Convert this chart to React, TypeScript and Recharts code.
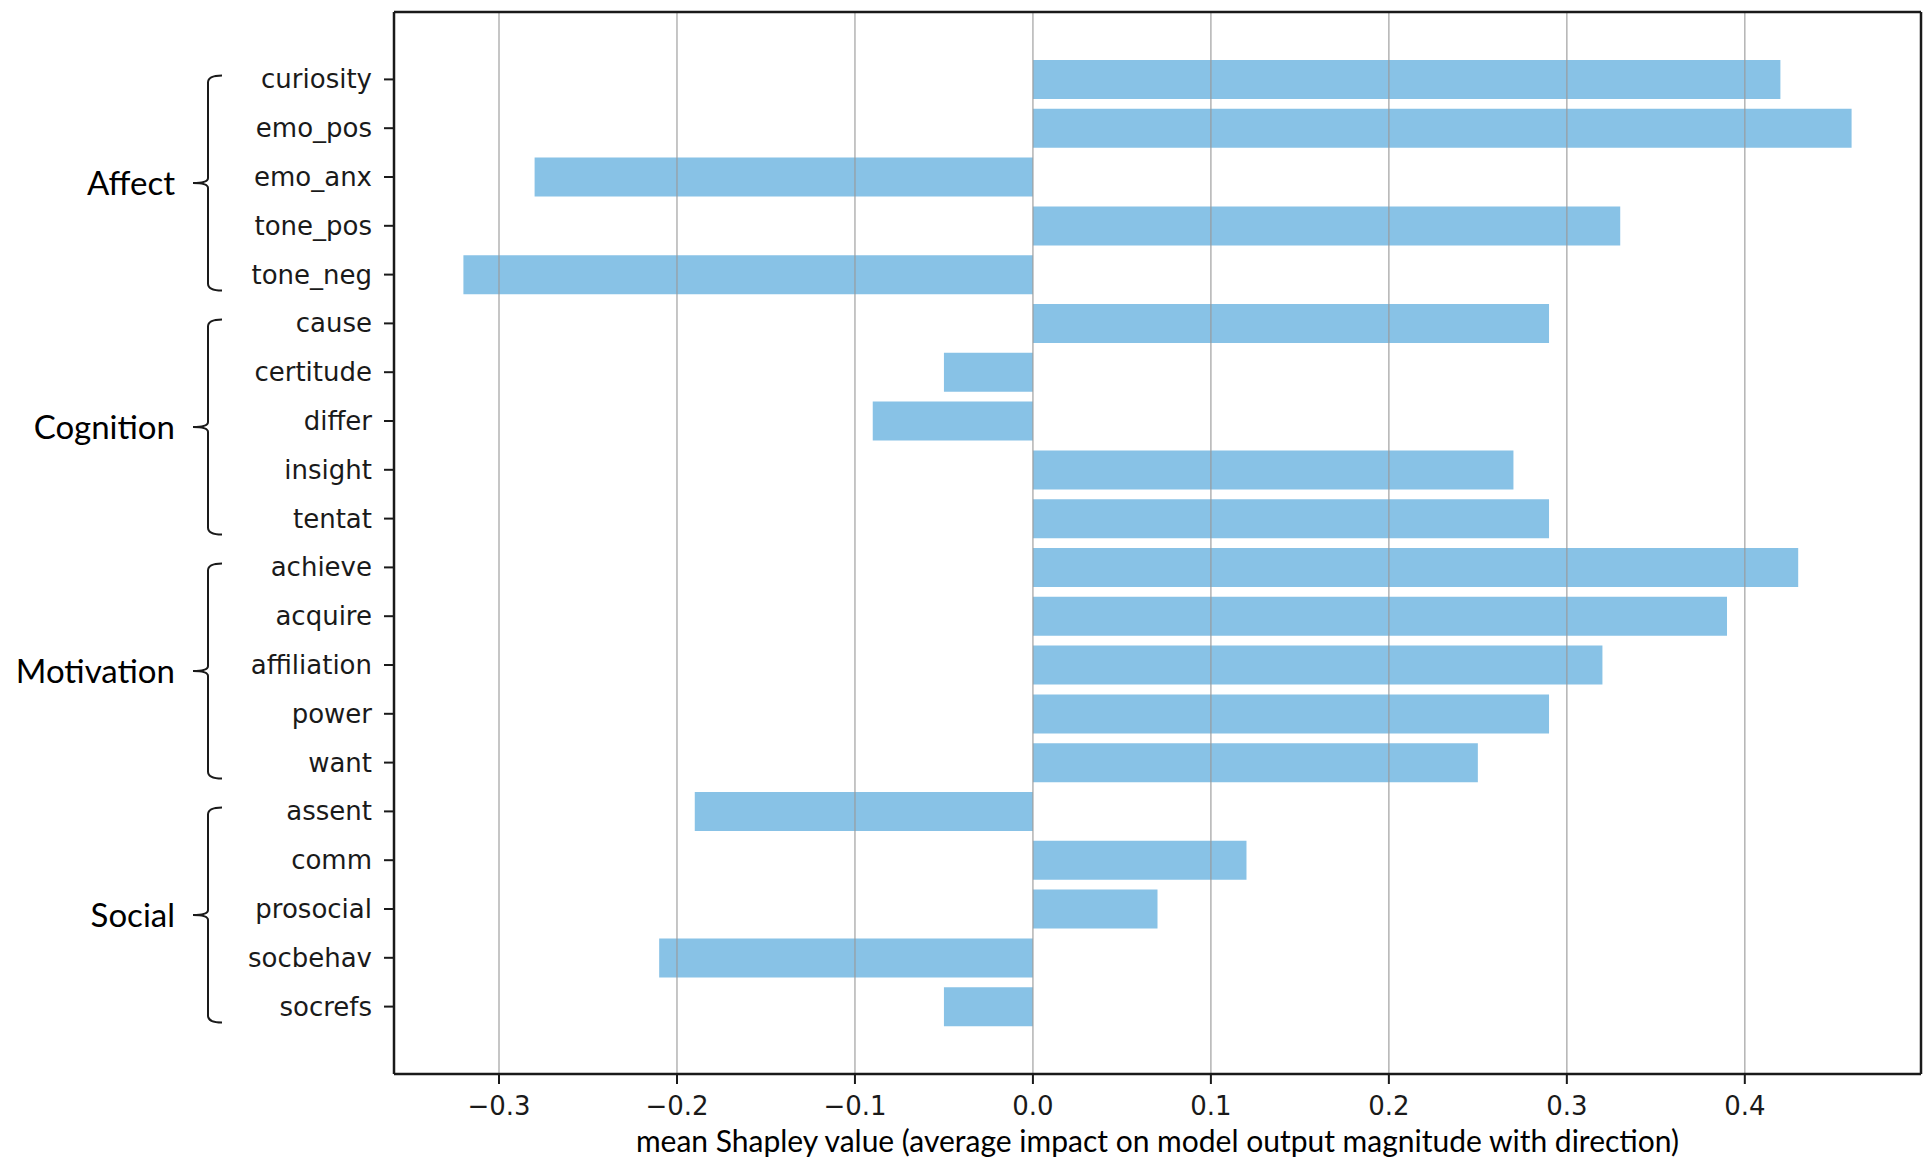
import { BarChart, Bar, XAxis, YAxis, ReferenceLine } from "recharts";

const categories = [
  "curiosity", "emo_pos", "emo_anx", "tone_pos", "tone_neg",
  "cause", "certitude", "differ", "insight", "tentat",
  "achieve", "acquire", "affiliation", "power", "want",
  "assent", "comm", "prosocial", "socbehav", "socrefs",
];
const values = [
  0.42, 0.46, -0.28, 0.33, -0.32,
  0.29, -0.05, -0.09, 0.27, 0.29,
  0.43, 0.39, 0.32, 0.29, 0.25,
  -0.19, 0.12, 0.07, -0.21, -0.05,
];
const groupNames = ["Affect", "Cognition", "Motivation", "Social"];
const groupStarts = ["curiosity", "cause", "achieve", "assent"];
const groupSizes = [5, 5, 5, 5];
const xTicks = [-0.3, -0.2, -0.1, 0.0, 0.1, 0.2, 0.3, 0.4];
const xDomain = [-0.359, 0.499];
const xLabel = "mean Shapley value (average impact on model output magnitude with direction)";

const data = categories.map((name, i) => ({ name, value: values[i] }));

const CHART_W = 1930;
const CHART_H = 1166;
const MARGIN = { top: 11, right: 8, bottom: 0, left: 0 };
const Y_AXIS_W = 394;
const X_AXIS_H = 92;
const PAD = 43;
const PLOT_H = CHART_H - MARGIN.top - 1 - X_AXIS_H;
const BAND = (PLOT_H - 2 * PAD) / categories.length;

const INK = "#1a1a1a";
const BAR = "#88C2E6";
const GRID = "#9a9a9a";

const fmt = (v: number) => v.toFixed(1).replace("-", "\u2212");

const YTick = (props: any) => {
  const { x, y, payload } = props;
  const name = payload.value as string;
  const g = groupStarts.indexOf(name);
  let bracket = null;
  if (g >= 0) {
    const top = y - 4;
    const bottom = y + (groupSizes[g] - 1) * BAND + 16;
    const mid = (top + bottom) / 2;
    const bx = 208;
    const d = `M ${bx + 14} ${top} Q ${bx} ${top} ${bx} ${top + 7} L ${bx} ${mid - 5} Q ${bx} ${mid} ${bx - 15} ${mid} Q ${bx} ${mid} ${bx} ${mid + 5} L ${bx} ${bottom - 7} Q ${bx} ${bottom} ${bx + 14} ${bottom}`;
    bracket = (
      <g>
        <path d={d} fill="none" stroke={INK} strokeWidth={2} />
        <text x={175} y={mid + 12} textAnchor="end" fontFamily="Lato" fontSize={33} fill="#000">
          {groupNames[g]}
        </text>
      </g>
    );
  }
  return (
    <g>
      <text x={x} y={y} textAnchor="end" dominantBaseline="central" fontFamily="DejaVu Sans" fontSize={26} fill={INK}>
        {name}
      </text>
      {bracket}
    </g>
  );
};

const XTick = (props: any) => {
  const { x, y, payload } = props;
  return (
    <text x={x} y={y} dy={29} textAnchor="middle" fontFamily="DejaVu Sans" fontSize={26} fill={INK}>
      {fmt(payload.value)}
    </text>
  );
};

const XLabel = (props: any) => {
  const vb = props.viewBox;
  return (
    <text x={vb.x + vb.width / 2} y={vb.y + 78} textAnchor="middle" fontFamily="Lato" fontSize={30} fill="#000">
      {xLabel}
    </text>
  );
};

export default function App() {
  return (
    <div style={{ width: CHART_W, height: CHART_H, background: "#fff" }}>
      <style>{"body{margin:0;overflow:hidden}"}</style>
      <BarChart width={CHART_W} height={CHART_H} data={data} layout="vertical" margin={MARGIN}>
        <XAxis
          type="number"
          domain={xDomain}
          ticks={xTicks}
          allowDataOverflow
          height={X_AXIS_H}
          tick={<XTick />}
          tickSize={10}
          tickMargin={2}
          tickLine={{ stroke: INK, strokeWidth: 2 }}
          axisLine={{ stroke: INK, strokeWidth: 2.5 }}
          label={<XLabel />}
        />
        <XAxis
          xAxisId="top"
          orientation="top"
          type="number"
          domain={xDomain}
          allowDataOverflow
          height={1}
          tick={false}
          tickLine={false}
          axisLine={{ stroke: INK, strokeWidth: 2.5 }}
        />
        <YAxis
          type="category"
          dataKey="name"
          width={Y_AXIS_W}
          interval={0}
          padding={{ top: PAD, bottom: PAD }}
          tick={<YTick />}
          tickSize={10}
          tickMargin={12}
          tickLine={{ stroke: INK, strokeWidth: 2 }}
          axisLine={{ stroke: INK, strokeWidth: 2.5 }}
        />
        <YAxis
          yAxisId="right"
          orientation="right"
          type="category"
          dataKey="name"
          width={1}
          padding={{ top: PAD, bottom: PAD }}
          tick={false}
          tickLine={false}
          axisLine={{ stroke: INK, strokeWidth: 2.5 }}
        />
        <Bar dataKey="value" fill={BAR} barSize={39} isAnimationActive={false} />
        {xTicks.map((t) => (
          <ReferenceLine key={t} x={t} stroke={GRID} strokeWidth={1.5} strokeOpacity={0.75} />
        ))}
      </BarChart>
    </div>
  );
}
